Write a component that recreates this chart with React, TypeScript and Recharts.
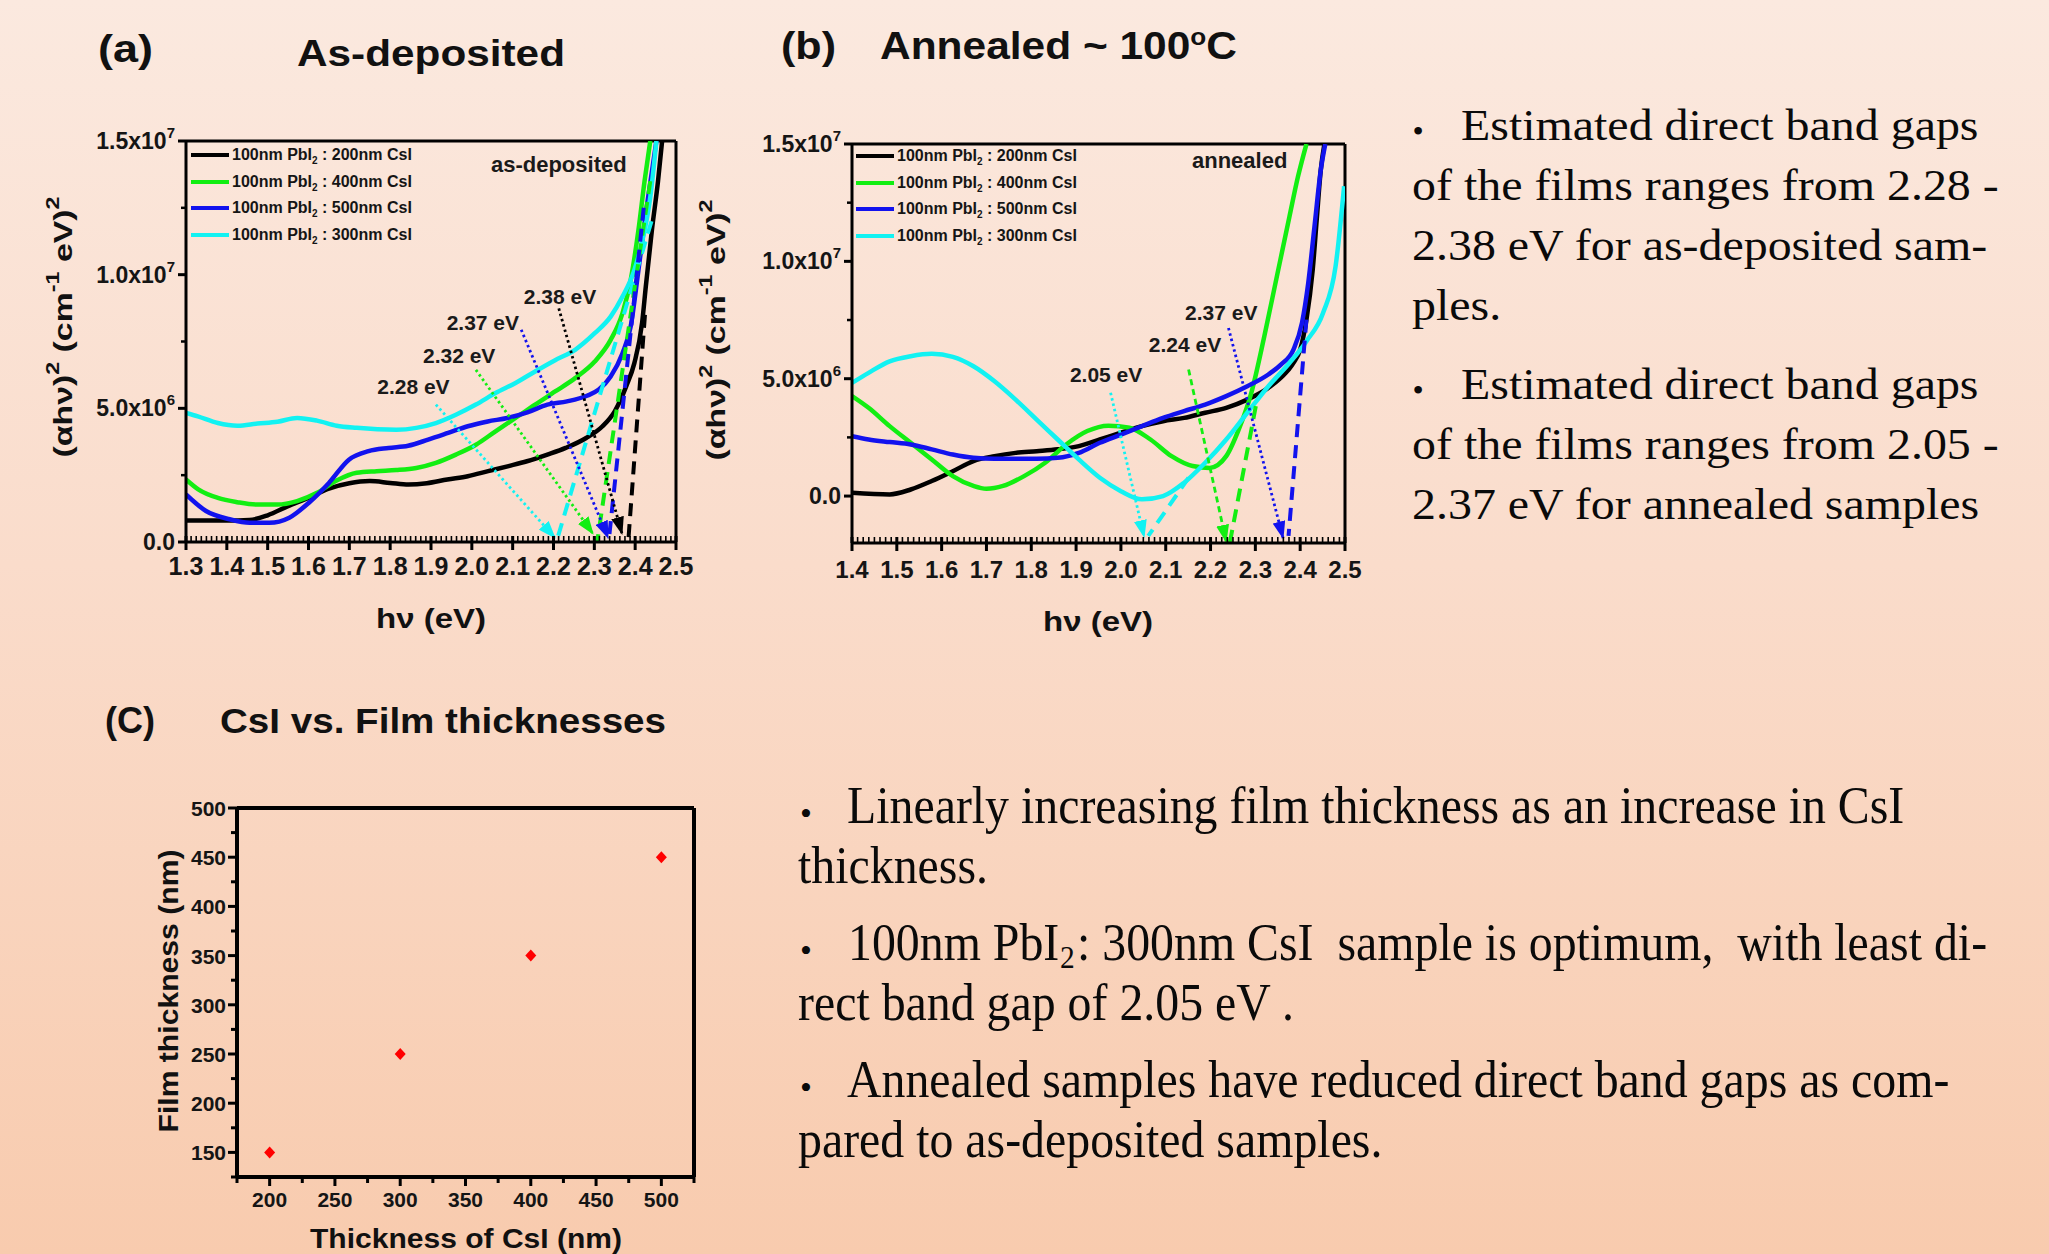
import React from "react";
import {
  LineChart,
  Line,
  XAxis,
  YAxis,
  ReferenceLine,
  ReferenceDot,
  Legend,
  ScatterChart,
  Scatter,
} from "recharts";

const SANS = '"Liberation Sans", Arial, sans-serif';
const SERIF = '"Liberation Serif", "Times New Roman", serif';

type Pt = { x: number; y: number };
const pts = (a: number[][]): Pt[] => a.map(([x, y]) => ({ x, y }));

// colours used by the original Origin plots
const BLACK = "#000000";
const GREEN = "#12ee12";
const BLUE = "#1212ee";
const CYAN = "#12f2f2";

// (a) as-deposited, (αhν)² in units of 1e6
const asDep200 = pts([[1.3,0.8],[1.35,0.8],[1.4,0.8],[1.455,0.82],[1.5,1.0],[1.55,1.34],[1.6,1.65],[1.65,2.0],[1.7,2.2],[1.75,2.28],[1.8,2.21],[1.845,2.15],[1.89,2.2],[1.94,2.34],[1.99,2.46],[2.04,2.65],[2.09,2.84],[2.135,3.02],[2.185,3.27],[2.23,3.52],[2.28,3.89],[2.32,4.33],[2.35,4.89],[2.378,5.82],[2.398,6.69],[2.417,8.2],[2.426,9.55],[2.441,11.67],[2.456,13.5],[2.466,15]]);
const asDep400 = pts([[1.3,2.34],[1.33,1.97],[1.378,1.65],[1.426,1.49],[1.475,1.4],[1.524,1.4],[1.572,1.53],[1.621,1.84],[1.669,2.3],[1.718,2.59],[1.767,2.65],[1.815,2.69],[1.864,2.77],[1.912,2.96],[1.961,3.27],[2.01,3.64],[2.058,4.14],[2.107,4.64],[2.155,5.14],[2.204,5.63],[2.253,6.13],[2.301,6.75],[2.34,7.56],[2.369,8.56],[2.389,9.8],[2.408,11.67],[2.423,13.5],[2.437,15]]);
const asDep500 = pts([[1.3,1.78],[1.349,1.16],[1.407,0.85],[1.456,0.72],[1.504,0.72],[1.553,0.91],[1.601,1.47],[1.65,2.21],[1.699,3.08],[1.747,3.4],[1.796,3.52],[1.844,3.6],[1.893,3.83],[1.942,4.08],[1.99,4.33],[2.039,4.51],[2.087,4.64],[2.136,4.85],[2.185,5.14],[2.233,5.26],[2.282,5.47],[2.311,5.7],[2.34,6.19],[2.369,7.06],[2.389,8.06],[2.408,10.17],[2.428,12.5],[2.452,15]]);
const asDep300 = pts([[1.3,4.83],[1.329,4.7],[1.378,4.45],[1.426,4.35],[1.475,4.43],[1.524,4.5],[1.572,4.64],[1.621,4.54],[1.669,4.35],[1.718,4.27],[1.815,4.2],[1.864,4.27],[1.912,4.45],[1.961,4.76],[2.01,5.14],[2.058,5.57],[2.107,5.95],[2.155,6.38],[2.204,6.8],[2.253,7.19],[2.301,7.81],[2.34,8.43],[2.369,9.18],[2.398,10.17],[2.418,11.3],[2.437,12.9],[2.452,15]]);

// (a) extrapolated tangents and gap arrows
const asDepTangents = [
  { color: CYAN, data: pts([[2.44,12.0],[2.207,0]]) },
  { color: GREEN, data: pts([[2.437,13.5],[2.307,0]]) },
  { color: BLUE, data: pts([[2.421,12.5],[2.335,0]]) },
  { color: BLACK, data: pts([[2.424,8.5],[2.383,0]]) },
];
const asDepArrows = [
  { color: BLACK, data: pts([[2.213,8.74],[2.368,0.3]]) },
  { color: BLUE, data: pts([[2.121,7.94],[2.334,0.15]]) },
  { color: GREEN, data: pts([[2.01,6.44],[2.297,0.3]]) },
  { color: CYAN, data: pts([[1.912,5.14],[2.204,0.15]]) },
];
const asDepGapLabels = [
  { text: "2.38 eV", x: 2.216, y: 9.19 },
  { text: "2.37 eV", x: 2.027, y: 8.22 },
  { text: "2.32 eV", x: 1.969, y: 6.98 },
  { text: "2.28 eV", x: 1.857, y: 5.8 },
];

// (b) annealed ~100 °C
const ann200 = pts([[1.4,0.14],[1.484,0.07],[1.531,0.28],[1.578,0.64],[1.625,1.06],[1.671,1.49],[1.718,1.7],[1.765,1.84],[1.812,1.91],[1.859,1.99],[1.906,2.13],[1.953,2.41],[2.0,2.7],[2.047,2.98],[2.094,3.19],[2.141,3.33],[2.188,3.55],[2.235,3.76],[2.282,4.11],[2.329,4.61],[2.357,5.04],[2.385,5.67],[2.4,6.24],[2.414,7.52],[2.428,9.65],[2.437,11.8],[2.446,13.9],[2.454,15]]);
const ann400 = pts([[1.4,4.26],[1.437,3.76],[1.484,2.98],[1.531,2.27],[1.578,1.56],[1.625,0.85],[1.671,0.43],[1.7,0.31],[1.737,0.43],[1.784,0.85],[1.831,1.42],[1.878,2.2],[1.925,2.77],[1.972,3.0],[2.019,2.91],[2.066,2.41],[2.113,1.7],[2.16,1.28],[2.198,1.2],[2.235,1.7],[2.263,2.84],[2.291,4.4],[2.32,6.81],[2.348,9.36],[2.376,11.9],[2.395,13.6],[2.414,15]]);
const ann500 = pts([[1.4,2.55],[1.437,2.41],[1.484,2.3],[1.531,2.2],[1.578,1.99],[1.625,1.77],[1.671,1.63],[1.718,1.59],[1.765,1.59],[1.812,1.59],[1.859,1.63],[1.906,1.84],[1.953,2.27],[2.0,2.62],[2.047,2.98],[2.094,3.33],[2.141,3.62],[2.188,3.9],[2.235,4.26],[2.282,4.68],[2.329,5.18],[2.357,5.6],[2.385,6.24],[2.404,7.38],[2.418,9.08],[2.432,11.5],[2.446,13.9],[2.456,15]]);
const ann300 = pts([[1.4,4.82],[1.437,5.25],[1.484,5.74],[1.531,5.96],[1.578,6.06],[1.625,5.93],[1.671,5.53],[1.718,4.89],[1.765,4.11],[1.812,3.26],[1.859,2.41],[1.906,1.56],[1.953,0.78],[2.0,0.21],[2.047,-0.14],[2.094,0.0],[2.141,0.57],[2.188,1.42],[2.235,2.41],[2.282,3.55],[2.329,4.68],[2.376,5.67],[2.414,6.6],[2.451,7.8],[2.479,9.79],[2.498,13.2]]);

const annTangents = [
  { color: CYAN, data: pts([[2.151,0.78],[2.061,-1.7]]) },
  { color: GREEN, data: pts([[2.301,3.83],[2.243,-1.99]]) },
  { color: BLUE, data: pts([[2.414,7.52],[2.374,-1.7]]) },
];
const annArrows = [
  { color: CYAN, dash: "2.5 3", data: pts([[1.977,4.4],[2.052,-1.75]]) },
  { color: GREEN, dash: "6 4", data: pts([[2.151,5.39],[2.235,-1.95]]) },
  { color: BLUE, dash: "2.5 3", data: pts([[2.24,7.16],[2.362,-1.8]]) },
];
const annGapLabels = [
  { text: "2.37 eV", x: 2.224, y: 7.83 },
  { text: "2.24 eV", x: 2.143, y: 6.45 },
  { text: "2.05 eV", x: 1.967, y: 5.18 },
];

// (c) film thickness vs CsI thickness
const csiThickness = [200, 300, 400, 500];
const filmThickness = [150, 250, 350, 450];
const thicknessData = csiThickness.map((x, i) => ({ x, y: filmThickness[i] }));

// ticks
const evMajorA = [1.3, 1.4, 1.5, 1.6, 1.7, 1.8, 1.9, 2.0, 2.1, 2.2, 2.3, 2.4, 2.5];
const evMajorB = [1.4, 1.5, 1.6, 1.7, 1.8, 1.9, 2.0, 2.1, 2.2, 2.3, 2.4, 2.5];
const yTicksA = [0, 2.5, 5, 7.5, 10, 12.5, 15];
const yTicksB = [0, 2.5, 5, 7.5, 10, 12.5, 15];
const SCI_LABELS: Record<string, [string, string]> = {
  "0": ["0.0", ""],
  "5": ["5.0x10", "6"],
  "10": ["1.0x10", "7"],
  "15": ["1.5x10", "7"],
};
const cTicksX = [175, 200, 225, 250, 275, 300, 325, 350, 375, 400, 425, 450, 475, 500, 525];
const cTicksY = [125, 150, 175, 200, 225, 250, 275, 300, 325, 350, 375, 400, 425, 450, 475, 500];

const csiSteps = ["200", "400", "500", "300"];
const seriesA = [asDep200, asDep400, asDep500, asDep300];
const seriesB = [ann200, ann400, ann500, ann300];
const seriesColors = [BLACK, GREEN, BLUE, CYAN];

const subdivide = (majors: number[], n: number) => {
  const out: number[] = [];
  for (let i = 0; i < majors.length - 1; i++) {
    for (let k = 0; k < n; k++) {
      out.push(+(majors[i] + ((majors[i + 1] - majors[i]) * k) / n).toFixed(4));
    }
  }
  out.push(majors[majors.length - 1]);
  return out;
};

const AXIS = { stroke: "#000", strokeWidth: 3 };

function EvTick(props: any) {
  const { x, y, payload, fs, dyLabel } = props;
  const v: number = payload.value;
  const major = Math.abs(v * 10 - Math.round(v * 10)) < 1e-4;
  if (!major) {
    return <line x1={x} x2={x} y1={y - 1} y2={y - 6} stroke="#000" strokeWidth={1.6} />;
  }
  return (
    <g>
      <line x1={x} x2={x} y1={y - 6} y2={y + 8} stroke="#000" strokeWidth={3} />
      <text x={x} y={y + dyLabel} textAnchor="middle" fontFamily={SANS} fontWeight="bold" fontSize={fs} fill="#151515">
        {v.toFixed(1)}
      </text>
    </g>
  );
}

function SciTick(props: any) {
  const { x, y, payload } = props;
  const lab = SCI_LABELS[String(payload.value)];
  if (!lab) {
    return <line x1={x} x2={x - 5} y1={y} y2={y} stroke="#000" strokeWidth={2.5} />;
  }
  return (
    <g>
      <line x1={x} x2={x - 8} y1={y} y2={y} stroke="#000" strokeWidth={3} />
      <text x={x - 11} y={y + 8} textAnchor="end" fontFamily={SANS} fontWeight="bold" fontSize={23} fill="#151515">
        {lab[0]}
        {lab[1] && (
          <tspan dy={-11} fontSize={15}>
            {lab[1]}
          </tspan>
        )}
      </text>
    </g>
  );
}

function NmTick(props: any) {
  const { x, y, payload, orient } = props;
  const v: number = payload.value;
  const major = v % 50 === 0;
  const len = major ? 9 : 6;
  if (orient === "x") {
    return (
      <g>
        <line x1={x} x2={x} y1={y} y2={y + len} stroke="#000" strokeWidth={3} />
        {major && (
          <text x={x} y={y + 30} textAnchor="middle" fontFamily={SANS} fontWeight="bold" fontSize={21} fill="#151515">
            {v}
          </text>
        )}
      </g>
    );
  }
  return (
    <g>
      <line x1={x} x2={x - len} y1={y} y2={y} stroke="#000" strokeWidth={3} />
      {major && (
        <text x={x - 11} y={y + 8} textAnchor="end" fontFamily={SANS} fontWeight="bold" fontSize={21} fill="#151515">
          {v}
        </text>
      )}
    </g>
  );
}

function SeriesLegend() {
  return (
    <div style={{ fontFamily: SANS, fontWeight: 700, fontSize: 16, color: "#151515" }}>
      {csiSteps.map((step, i) => (
        <div key={step} style={{ display: "flex", alignItems: "center", height: 26.5, whiteSpace: "nowrap" }}>
          <span style={{ display: "inline-block", width: 38, height: 4, background: seriesColors[i], marginRight: 3 }} />
          <span>
            100nm PbI<sub style={{ fontSize: 10, lineHeight: 0 }}>2</sub> : {step}nm CsI
          </span>
        </div>
      ))}
    </div>
  );
}

function arrowMarkers(prefix: string) {
  return (
    <defs>
      {seriesColors.map((c, i) => (
        <marker
          key={c}
          id={`${prefix}${i}`}
          viewBox="0 0 18 13"
          refX={17}
          refY={6.5}
          markerWidth={18}
          markerHeight={13}
          markerUnits="userSpaceOnUse"
          orient="auto"
        >
          <path d="M0,0 L18,6.5 L0,13 z" fill={c} />
        </marker>
      ))}
    </defs>
  );
}

const markerFor = (prefix: string, color: string) => `url(#${prefix}${seriesColors.indexOf(color)})`;

const gapLabel = (text: string) => ({
  value: text,
  position: "center" as const,
  fontSize: 21,
  fontWeight: "bold",
  fill: "#1a1a1a",
  fontFamily: SANS,
});

function AsDepositedChart() {
  return (
    <div style={{ position: "absolute", left: 0, top: 0 }}>
      <LineChart width={700} height={640} margin={{ top: 141, right: 24, bottom: 0, left: 0 }}>
        {arrowMarkers("mkA")}
        <XAxis
          type="number"
          dataKey="x"
          domain={[1.3, 2.5]}
          ticks={subdivide(evMajorA, 8)}
          interval={0}
          height={98}
          allowDataOverflow
          tickLine={false}
          tickSize={0}
          tickMargin={0}
          axisLine={AXIS}
          tick={<EvTick fs={25} dyLabel={33} />}
        />
        <YAxis
          type="number"
          domain={[0, 15]}
          ticks={yTicksA}
          interval={0}
          width={186}
          allowDataOverflow
          tickLine={false}
          tickSize={0}
          tickMargin={0}
          axisLine={AXIS}
          tick={<SciTick />}
        />
        <ReferenceLine y={15} stroke="#000" strokeWidth={3} />
        <ReferenceLine x={2.5} stroke="#000" strokeWidth={3} />
        {seriesA.map((d, i) => (
          <Line
            key={csiSteps[i]}
            data={d}
            dataKey="y"
            name={csiSteps[i]}
            type="monotone"
            stroke={seriesColors[i]}
            strokeWidth={4.5}
            dot={false}
            activeDot={false}
            isAnimationActive={false}
          />
        ))}
        {asDepTangents.map((t, i) => (
          <Line
            key={`ta${i}`}
            data={t.data}
            dataKey="y"
            type="linear"
            stroke={t.color}
            strokeWidth={4}
            strokeDasharray="13 8"
            dot={false}
            activeDot={false}
            legendType="none"
            isAnimationActive={false}
          />
        ))}
        {asDepArrows.map((t, i) => (
          <Line
            key={`aa${i}`}
            data={t.data}
            dataKey="y"
            type="linear"
            stroke={t.color}
            strokeWidth={2.8}
            strokeDasharray="2.5 3"
            markerEnd={markerFor("mkA", t.color)}
            dot={false}
            activeDot={false}
            legendType="none"
            isAnimationActive={false}
          />
        ))}
        {asDepGapLabels.map((l) => (
          <ReferenceDot key={l.text} x={l.x} y={l.y} r={0} fill="none" stroke="none" label={gapLabel(l.text)} />
        ))}
        <ReferenceDot
          x={2.213}
          y={14.15}
          r={0}
          fill="none"
          stroke="none"
          label={{ ...gapLabel("as-deposited"), fontSize: 22 }}
        />
        <Legend
          layout="vertical"
          align="center"
          verticalAlign="middle"
          content={() => <SeriesLegend />}
          wrapperStyle={{ left: 191, top: 142, width: 260, height: 110 }}
        />
      </LineChart>
    </div>
  );
}

function AnnealedChart() {
  return (
    <div style={{ position: "absolute", left: 700, top: 0 }}>
      <LineChart width={680} height={640} margin={{ top: 144, right: 35, bottom: 0, left: 0 }}>
        {arrowMarkers("mkB")}
        <XAxis
          type="number"
          dataKey="x"
          domain={[1.4, 2.5]}
          ticks={subdivide(evMajorB, 8)}
          interval={0}
          height={97}
          allowDataOverflow
          tickLine={false}
          tickSize={0}
          tickMargin={0}
          axisLine={AXIS}
          tick={<EvTick fs={24} dyLabel={35} />}
        />
        <YAxis
          type="number"
          domain={[-2, 15]}
          ticks={yTicksB}
          interval={0}
          width={152}
          allowDataOverflow
          tickLine={false}
          tickSize={0}
          tickMargin={0}
          axisLine={AXIS}
          tick={<SciTick />}
        />
        <ReferenceLine y={15} stroke="#000" strokeWidth={3} />
        <ReferenceLine x={2.5} stroke="#000" strokeWidth={3} />
        {seriesB.map((d, i) => (
          <Line
            key={csiSteps[i]}
            data={d}
            dataKey="y"
            name={csiSteps[i]}
            type="monotone"
            stroke={seriesColors[i]}
            strokeWidth={4.5}
            dot={false}
            activeDot={false}
            isAnimationActive={false}
          />
        ))}
        {annTangents.map((t, i) => (
          <Line
            key={`tb${i}`}
            data={t.data}
            dataKey="y"
            type="linear"
            stroke={t.color}
            strokeWidth={4}
            strokeDasharray="13 8"
            dot={false}
            activeDot={false}
            legendType="none"
            isAnimationActive={false}
          />
        ))}
        {annArrows.map((t, i) => (
          <Line
            key={`ab${i}`}
            data={t.data}
            dataKey="y"
            type="linear"
            stroke={t.color}
            strokeWidth={2.8}
            strokeDasharray={t.dash}
            markerEnd={markerFor("mkB", t.color)}
            dot={false}
            activeDot={false}
            legendType="none"
            isAnimationActive={false}
          />
        ))}
        {annGapLabels.map((l) => (
          <ReferenceDot key={l.text} x={l.x} y={l.y} r={0} fill="none" stroke="none" label={gapLabel(l.text)} />
        ))}
        <ReferenceDot
          x={2.265}
          y={14.33}
          r={0}
          fill="none"
          stroke="none"
          label={{ ...gapLabel("annealed"), fontSize: 22 }}
        />
        <Legend
          layout="vertical"
          align="center"
          verticalAlign="middle"
          content={() => <SeriesLegend />}
          wrapperStyle={{ left: 156, top: 143, width: 260, height: 110 }}
        />
      </LineChart>
    </div>
  );
}

const Diamond = (props: any) => {
  const { cx, cy } = props;
  return <path d={`M${cx},${cy - 6}L${cx + 5.5},${cy}L${cx},${cy + 6}L${cx - 5.5},${cy}Z`} fill="#ff0000" />;
};

function ThicknessChart() {
  return (
    <div style={{ position: "absolute", left: 0, top: 700 }}>
      <ScatterChart width={740} height={554} margin={{ top: 108, right: 46, bottom: 0, left: 0 }}>
        <XAxis
          type="number"
          dataKey="x"
          domain={[175, 525]}
          ticks={cTicksX}
          interval={0}
          height={77}
          allowDataOverflow
          tickLine={false}
          tickSize={0}
          tickMargin={0}
          axisLine={{ stroke: "#000", strokeWidth: 4 }}
          tick={<NmTick orient="x" />}
        />
        <YAxis
          type="number"
          dataKey="y"
          domain={[125, 500]}
          ticks={cTicksY}
          interval={0}
          width={237}
          allowDataOverflow
          tickLine={false}
          tickSize={0}
          tickMargin={0}
          axisLine={{ stroke: "#000", strokeWidth: 4 }}
          tick={<NmTick orient="y" />}
        />
        <ReferenceLine y={500} stroke="#000" strokeWidth={4} />
        <ReferenceLine x={525} stroke="#000" strokeWidth={4} />
        <Scatter data={thicknessData} fill="#ff0000" shape={Diamond} isAnimationActive={false} />
      </ScatterChart>
    </div>
  );
}

const NBSP2 = "\u00a0\u00a0";

function PageText() {
  const trSize = 45;
  const trStretch = 1.065;
  const topRight = [
    { x: 1412, y: 200, t: "of the films ranges from 2.28 -" },
    { x: 1412, y: 260, t: "2.38 eV for as-deposited sam-" },
    { x: 1412, y: 320, t: "ples." },
    { x: 1412, y: 459, t: "of the films ranges from 2.05 -" },
    { x: 1412, y: 519, t: "2.37 eV for annealed samples" },
  ];
  const btSize = 52;
  const btSqueeze = 0.92;
  const bottom = [
    { x: 847, y: 823, t: "Linearly increasing film thickness as an increase in CsI" },
    { x: 798, y: 883, t: "thickness." },
    { x: 798, y: 1020, t: "rect band gap of 2.05 eV ." },
    { x: 847, y: 1097, t: "Annealed samples have reduced direct band gaps as com-" },
    { x: 798, y: 1157, t: "pared to as-deposited samples." },
  ];
  return (
    <svg
      width={2049}
      height={1254}
      style={{ position: "absolute", left: 0, top: 0, pointerEvents: "none" }}
    >
      <g fontFamily={SANS} fontWeight="bold" fill="#111">
        <text x={98} y={62} fontSize={38} textLength={55} lengthAdjust="spacingAndGlyphs">(a)</text>
        <text x={297} y={66} fontSize={37} textLength={268} lengthAdjust="spacingAndGlyphs">As-deposited</text>
        <text x={781} y={59} fontSize={38} textLength={55} lengthAdjust="spacingAndGlyphs">(b)</text>
        <text x={880} y={59} fontSize={39} textLength={357} lengthAdjust="spacingAndGlyphs">
          Annealed ~ 100<tspan dy={-14} fontSize={24}>o</tspan><tspan dy={14}>C</tspan>
        </text>
        <text x={105} y={733} fontSize={36}>(C)</text>
        <text x={220} y={733} fontSize={35} textLength={446} lengthAdjust="spacingAndGlyphs">CsI vs. Film thicknesses</text>

        <text x={431} y={628} fontSize={28} textAnchor="middle" textLength={110} lengthAdjust="spacingAndGlyphs">hν (eV)</text>
        <text x={1098} y={631} fontSize={28} textAnchor="middle" textLength={110} lengthAdjust="spacingAndGlyphs">hν (eV)</text>
        {[
          { cx: 63, cy: 327 },
          { cx: 716, cy: 330 },
        ].map((p) => (
          <text
            key={p.cx}
            transform={`translate(${p.cx} ${p.cy}) rotate(-90)`}
            fontSize={26}
            textAnchor="middle"
            dominantBaseline="central"
            textLength={261}
            lengthAdjust="spacingAndGlyphs"
          >
            (αhν)<tspan dy={-10} fontSize={18}>2</tspan>
            <tspan dy={10}> (cm</tspan>
            <tspan dy={-10} fontSize={18}>-1</tspan>
            <tspan dy={10}> eV)</tspan>
            <tspan dy={-10} fontSize={18}>2</tspan>
          </text>
        ))}
        <text
          transform="translate(168 991) rotate(-90)"
          fontSize={28}
          textAnchor="middle"
          dominantBaseline="central"
          textLength={283}
          lengthAdjust="spacingAndGlyphs"
        >
          Film thickness (nm)
        </text>
        <text x={466} y={1248} fontSize={28} textAnchor="middle" textLength={312} lengthAdjust="spacingAndGlyphs">
          Thickness of CsI (nm)
        </text>
      </g>

      <g fontFamily={SERIF} fill="#0a0a0a">
        <text x={1418} y={131} fontSize={32} textAnchor="middle" dominantBaseline="central">•</text>
        <text transform={`translate(1461 140) scale(${trStretch} 1)`} fontSize={trSize}>Estimated direct band gaps</text>
        <text x={1418} y={390} fontSize={32} textAnchor="middle" dominantBaseline="central">•</text>
        <text transform={`translate(1461 399) scale(${trStretch} 1)`} fontSize={trSize}>Estimated direct band gaps</text>
        {topRight.map((l) => (
          <text key={l.y} transform={`translate(${l.x} ${l.y}) scale(${trStretch} 1)`} fontSize={trSize}>
            {l.t}
          </text>
        ))}

        <text x={806} y={813} fontSize={34} textAnchor="middle" dominantBaseline="central">•</text>
        <text x={806} y={950} fontSize={34} textAnchor="middle" dominantBaseline="central">•</text>
        <text x={806} y={1087} fontSize={34} textAnchor="middle" dominantBaseline="central">•</text>
        {bottom.map((l) => (
          <text key={l.y} transform={`translate(${l.x} ${l.y}) scale(${btSqueeze} 1)`} fontSize={btSize}>
            {l.t}
          </text>
        ))}
        {/* "100nm PbI₂: 300nm CsI ..." split so the subscript is its own text run */}
        <text transform={`translate(848 960) scale(${btSqueeze} 1)`} fontSize={btSize}>100nm PbI</text>
        <text transform={`translate(1060 968) scale(${btSqueeze} 1)`} fontSize={32}>2</text>
        <text transform={`translate(1077 960) scale(${btSqueeze} 1)`} fontSize={btSize}>
          {`: 300nm CsI${NBSP2}sample is optimum,${NBSP2}with least di-`}
        </text>
      </g>
    </svg>
  );
}

export default function App() {
  return (
    <div
      style={{
        position: "absolute",
        left: 0,
        top: 0,
        width: 2049,
        height: 1254,
        overflow: "hidden",
        background: "linear-gradient(180deg, #fbe9df 0%, #fadccb 45%, #f8cbae 100%)",
      }}
    >
      <AsDepositedChart />
      <AnnealedChart />
      <ThicknessChart />
      <PageText />
    </div>
  );
}
